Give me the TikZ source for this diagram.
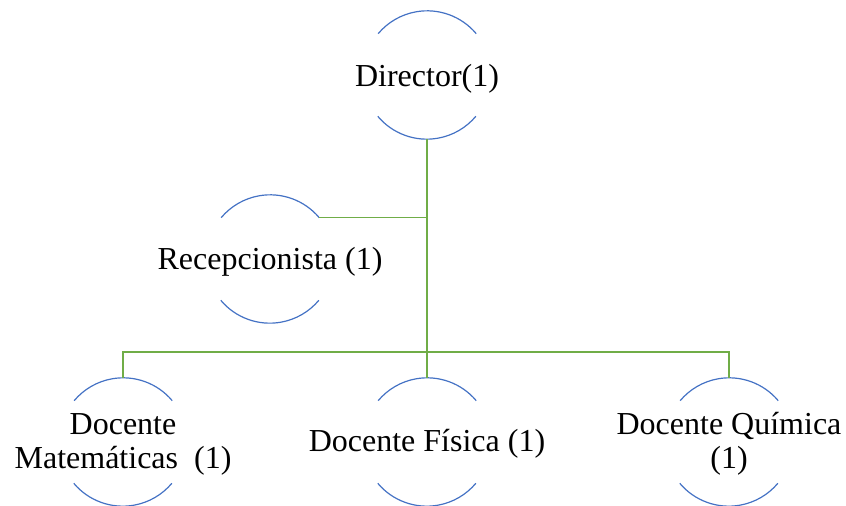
\documentclass[tikz,border=0pt]{standalone}
\usepackage{fontspec}
\setmainfont{Liberation Serif}
\usepackage{tikz}

\definecolor{arcblue}{RGB}{68,114,196}
\definecolor{linkgreen}{RGB}{112,173,71}

\tikzset{
  ring/.style={circle, minimum size=96pt, inner sep=0pt},
  arcline/.style={draw=arcblue, line width=0.9pt},
  link/.style={draw=linkgreen, line width=1.2pt},
  roletext/.style={inner sep=0pt, anchor=base, align=center,
    font=\fontsize{24}{25.5}\selectfont}
}

\begin{document}
\begin{tikzpicture}[x=0.75pt,y=0.75pt]
  \useasboundingbox (0,0) rectangle (846,506);

  \node[ring] (dirc) at (427,431) {};
  \node[ring] (recc) at (270,247) {};
  \node[ring] (matc) at (123,64) {};
  \node[ring] (fisc) at (427,64) {};
  \node[ring] (quic) at (729,64) {};

  % base of a two-line text is its last line
  \node[roletext] (dir) at (427,419) {Director(1)};
  \node[roletext] (rec) at (270,236) {Recepcionista (1)};
  \node[roletext] (mat) at (123,37) {Docente\\Matemáticas~~(1)};
  \node[roletext] (fis) at (427,54) {Docente Física (1)};
  \node[roletext] (qui) at (729,37) {Docente Química\\(1)};

  \foreach \c in {dirc,recc,matc,fisc,quic} {
    \draw[arcline] (\c.40) arc[start angle=40, end angle=140, radius=48pt];
    \draw[arcline] (\c.220) arc[start angle=220, end angle=320, radius=48pt];
  }

  \coordinate (bus) at (427,154);

  \draw[link] (dirc.south) -- (fisc.north);
  \draw[link] (recc.40) -- (recc.40 -| dirc.south);
  \draw[link] (matc.north) -- (matc.north |- bus) -- (quic.north |- bus) -- (quic.north);
\end{tikzpicture}
\end{document}
